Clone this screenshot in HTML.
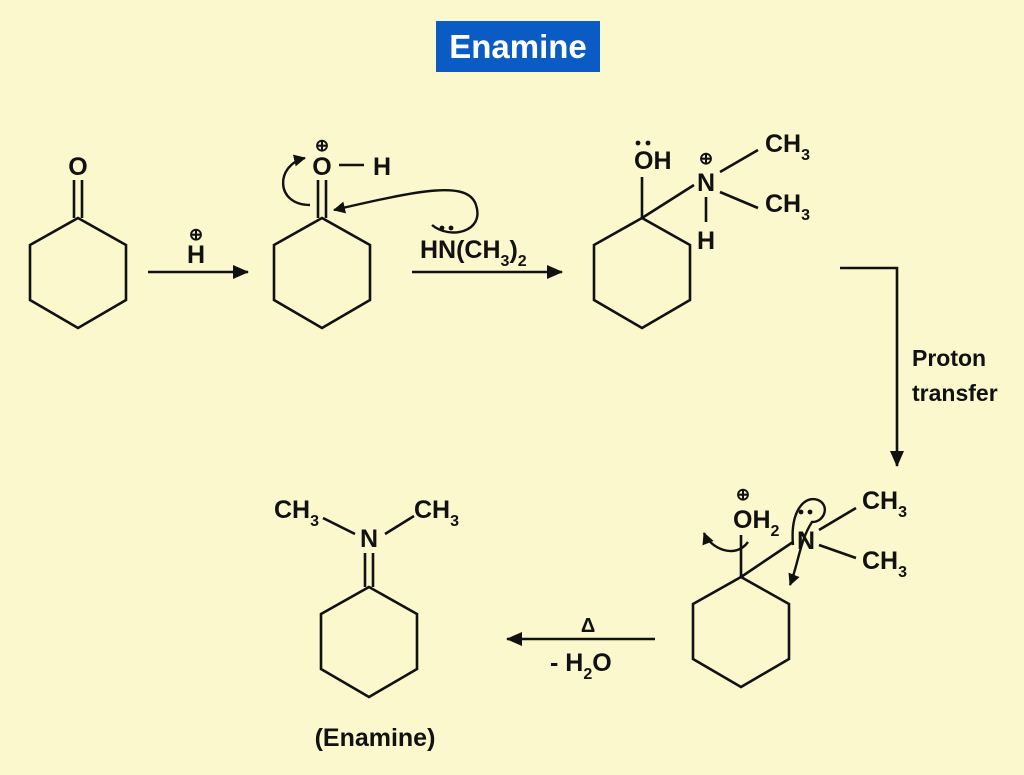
<!DOCTYPE html>
<html><head><meta charset="utf-8"><style>
html,body{margin:0;padding:0;background:#faf8cc;}
svg{display:block;}
text{font-family:"Liberation Sans",sans-serif;fill:#111;font-weight:bold;}
</style></head><body>
<svg width="1024" height="775" viewBox="0 0 1024 775" xmlns="http://www.w3.org/2000/svg">
<defs>
<marker id="ah" markerWidth="12" markerHeight="12" refX="11" refY="6" orient="auto" markerUnits="userSpaceOnUse"><path d="M0,0 L12,6 L0,12 z" fill="#111"/></marker>
<marker id="ah2" markerWidth="16" markerHeight="14" refX="15" refY="7" orient="auto" markerUnits="userSpaceOnUse"><path d="M0,0 L16,7 L0,14 z" fill="#111"/></marker>
</defs>
<rect width="1024" height="775" fill="#faf8cc"/>
<rect x="436" y="21" width="164" height="51" fill="#0a5cc4"/>
<text x="518" y="58" text-anchor="middle" font-size="33" style="fill:#fff">Enamine</text>

<g stroke="#111" stroke-width="2.6" fill="none">
<polygon points="78,218 126,245 126,300 78,328 30,300 30,245"/>
<line x1="74" y1="180" x2="74" y2="218"/><line x1="82" y1="180" x2="82" y2="218"/>
<polygon points="322,218 370,245 370,300 322,328 274,300 274,245"/>
<line x1="318" y1="180" x2="318" y2="218"/><line x1="326" y1="180" x2="326" y2="218"/>
<line x1="339" y1="165" x2="364" y2="165"/>
<polygon points="642,218 690,245 690,300 642,328 594,300 594,245"/>
<line x1="642" y1="218" x2="642" y2="177"/>
<line x1="642" y1="218" x2="694" y2="185"/>
<line x1="720" y1="172" x2="758" y2="150"/>
<line x1="720" y1="192" x2="758" y2="208"/>
<line x1="706" y1="197" x2="706" y2="222"/>
<polygon points="741,577 789,604 789,659 741,687 693,659 693,604"/>
<line x1="741" y1="577" x2="741" y2="535"/>
<line x1="741" y1="577" x2="793" y2="542"/>
<line x1="819" y1="530" x2="856" y2="508"/>
<line x1="819" y1="545" x2="856" y2="558"/>
<polygon points="369,587 417,614 417,669 369,697 321,669 321,614"/>
<line x1="365" y1="553" x2="365" y2="587"/><line x1="373" y1="553" x2="373" y2="587"/>
<line x1="323" y1="518" x2="355" y2="534"/>
<line x1="385" y1="534" x2="414" y2="516"/>
<line x1="148" y1="272" x2="248" y2="272" marker-end="url(#ah2)"/>
<line x1="412" y1="272" x2="562" y2="272" marker-end="url(#ah2)"/>
<polyline points="840,268 897,268 897,466" marker-end="url(#ah2)"/>
<line x1="655" y1="639" x2="507" y2="639" marker-end="url(#ah2)"/>
<path d="M310,205 C275,205 275,165 305,158" stroke-width="2.4" marker-end="url(#ah)"/>
<path d="M432,225 C450,240 485,232 476,205 C468,180 420,190 334,210" stroke-width="2.4" marker-end="url(#ah)"/>
<path d="M748,542 C735,560 710,548 704,533" stroke-width="2.4" marker-end="url(#ah)"/>
<path d="M793,545 C790,510 805,495 818,500 C830,505 825,522 812,522 C800,540 798,565 790,585" stroke-width="2.4" marker-end="url(#ah)"/>
</g>

<g font-size="25">
<text x="78" y="175" text-anchor="middle">O</text>
<text x="196" y="263" text-anchor="middle">H</text>
<text x="196" y="240" text-anchor="middle" font-size="17">⊕</text>
<text x="322" y="175" text-anchor="middle">O</text>
<text x="322" y="151" text-anchor="middle" font-size="17">⊕</text>
<text x="382" y="175" text-anchor="middle">H</text>
<text x="420" y="258">HN(CH<tspan font-size="16" dy="8">3</tspan><tspan dy="-8">)</tspan><tspan font-size="16" dy="8">2</tspan></text>
<circle cx="442" cy="228" r="2.4" fill="#111"/><circle cx="451" cy="228" r="2.4" fill="#111"/>
<text x="634" y="169">OH</text>
<circle cx="638" cy="143" r="2.4" fill="#111"/><circle cx="648" cy="143" r="2.4" fill="#111"/>
<text x="706" y="191" text-anchor="middle">N</text>
<text x="706" y="164" text-anchor="middle" font-size="17">⊕</text>
<text x="706" y="249" text-anchor="middle">H</text>
<text x="765" y="152">CH<tspan font-size="16" dy="8">3</tspan></text>
<text x="765" y="212">CH<tspan font-size="16" dy="8">3</tspan></text>
<text x="912" y="366" font-size="23">Proton</text>
<text x="912" y="401" font-size="23">transfer</text>
<text x="733" y="528">OH<tspan font-size="16" dy="8">2</tspan></text>
<text x="743" y="500" text-anchor="middle" font-size="17">⊕</text>
<text x="806" y="549" text-anchor="middle">N</text>
<circle cx="801" cy="512" r="2.4" fill="#111"/><circle cx="810" cy="512" r="2.4" fill="#111"/>
<text x="862" y="509">CH<tspan font-size="16" dy="8">3</tspan></text>
<text x="862" y="569">CH<tspan font-size="16" dy="8">3</tspan></text>
<text x="369" y="547" text-anchor="middle">N</text>
<text x="274" y="518">CH<tspan font-size="16" dy="8">3</tspan></text>
<text x="414" y="518">CH<tspan font-size="16" dy="8">3</tspan></text>
<text x="588" y="632" text-anchor="middle" font-size="20">Δ</text>
<text x="550" y="671">- H<tspan font-size="16" dy="8">2</tspan><tspan dy="-8">O</tspan></text>
<text x="375" y="746" text-anchor="middle">(Enamine)</text>
</g>
</svg>
</body></html>
